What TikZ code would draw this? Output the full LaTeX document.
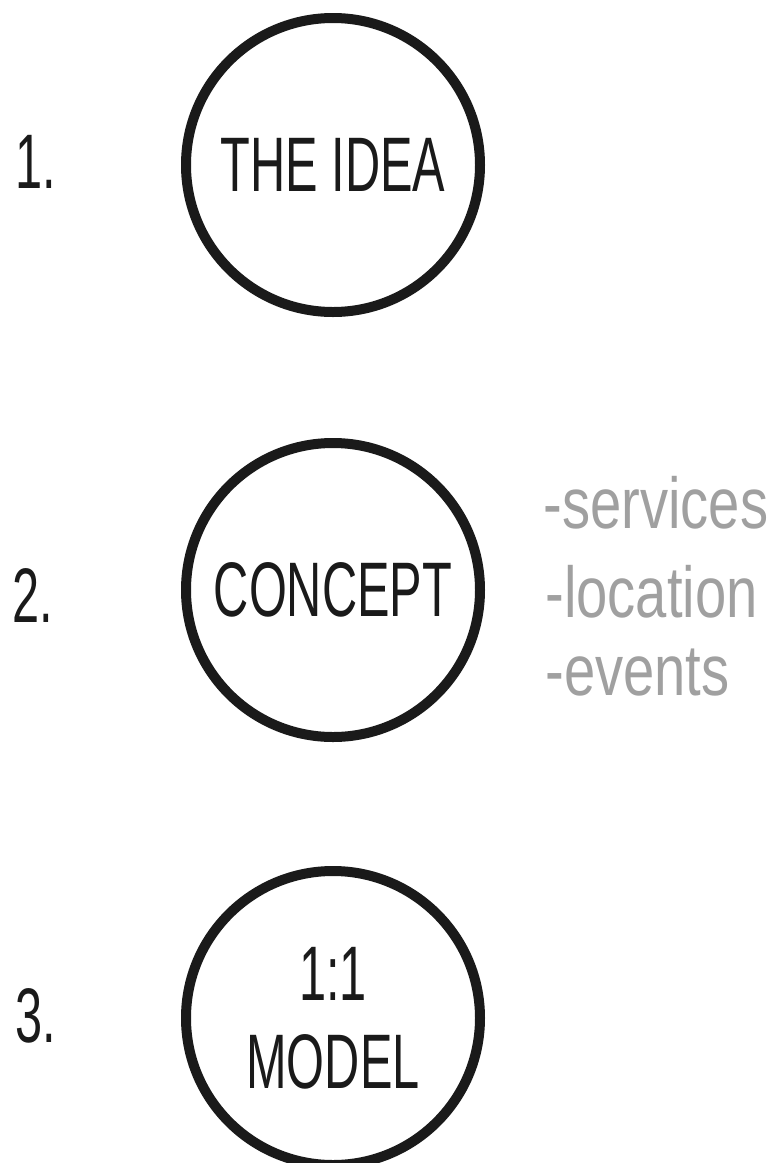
\documentclass[tikz,border=0pt]{standalone}
\usepackage{fontspec}
\usepackage{xcolor}
\usetikzlibrary{positioning}

\newfontfamily\capsfont[FakeStretch=0.63]{Liberation Sans}
\newfontfamily\notefont[FakeStretch=0.78]{Liberation Sans}
\definecolor{notegray}{HTML}{A0A0A0}
\definecolor{inkblack}{HTML}{1A1A1A}

\tikzset{
    stage/.style={draw=inkblack, circle, line width=0.2cm, minimum size=5.88cm,
        inner sep=0pt, align=center, text=inkblack,
        font=\capsfont\fontsize{44}{50}\selectfont},
    stagenum/.style={anchor=base west, inner sep=0pt, text=inkblack,
        font=\capsfont\fontsize{44}{50}\selectfont},
    note/.style={anchor=base west, inner sep=0pt, text=notegray,
        font=\notefont\fontsize{41}{48}\selectfont}
}

\begin{document}
\begin{tikzpicture}
    \useasboundingbox (0,0) rectangle (15.46,-23.26);
    \begin{scope}
        % Stage circles
        \node[stage] (idea) at (6.66,-3.30) {THE IDEA};
        \node[stage] (concept) at (6.66,-11.80) {CONCEPT};
        \node[stage] (model) at (6.66,-20.36) {1:1\\MODEL};

        % Step numbers
        \node[stagenum] (num1) at (0.30,-3.76) {1.};
        \node[stagenum] (num2) at (0.24,-12.44) {2.};
        \node[stagenum] (num3) at (0.30,-20.84) {3.};

        % Concept notes
        \node[note] (services) at (10.86,-10.56) {-services};
        \node[note] (location) at (10.90,-12.34) {-location};
        \node[note] (events) at (10.90,-13.90) {-events};
    \end{scope}
\end{tikzpicture}
\end{document}
